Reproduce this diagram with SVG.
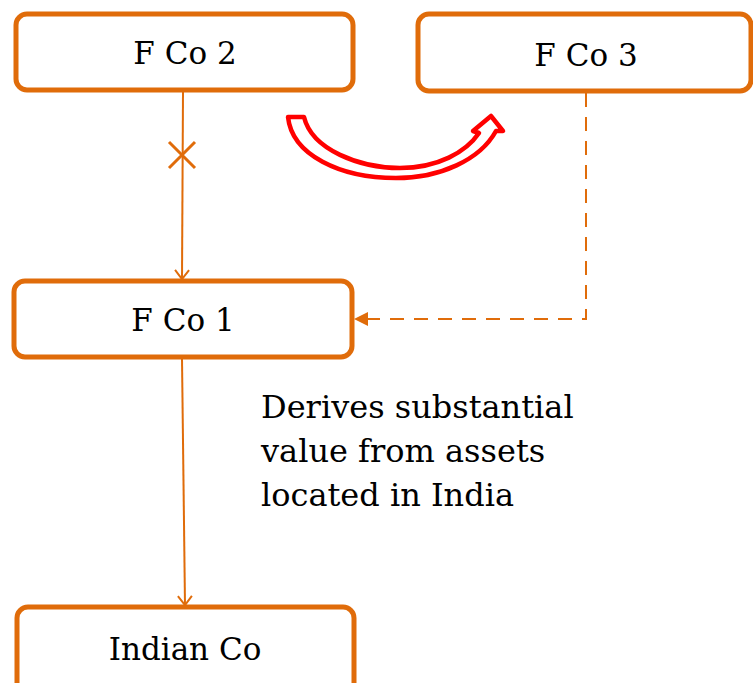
<svg xmlns="http://www.w3.org/2000/svg" width="753" height="683" viewBox="0 0 753 683">
<defs>
<style>
.box{fill:#fff;stroke:#E06C0A;stroke-width:5}
.lbl{font-family:"DejaVu Serif","Liberation Serif",serif;font-size:31px;fill:#000;text-anchor:middle}
.txt{font-family:"DejaVu Serif","Liberation Serif",serif;font-size:32px;fill:#000}
.ln{stroke:#E06C0A;stroke-width:2;fill:none}
</style>
<marker id="open" markerWidth="20" markerHeight="20" refX="10" refY="10" orient="auto" markerUnits="userSpaceOnUse">
<path d="M1,3 L10,10 L1,17" fill="none" stroke="#E06C0A" stroke-width="2"/>
</marker>
<marker id="fill" markerWidth="20" markerHeight="20" refX="12" refY="7" orient="auto" markerUnits="userSpaceOnUse">
<path d="M0,0 L14,7 L0,14 Z" fill="#E06C0A"/>
</marker>
</defs>
<g id="connectors">
<line class="ln" x1="183" y1="92" x2="182" y2="279" marker-end="url(#open)"/>
<path d="M169,142 L195,168 M195,142 L169,168" stroke="#E06C0A" stroke-width="3" fill="none"/>
<line class="ln" x1="182" y1="359" x2="185" y2="605" marker-end="url(#open)"/>
<path d="M586,93 L586,319 L356,319" class="ln" stroke-width="2.5" stroke-dasharray="14,10" marker-end="url(#fill)"/>
<path d="M288,117 L304,117 C312,150 360,168 400,168 C438,168 466,152 479,133 L473,131 L491,116 L503,131 L496,131 C480,160 440,178 396,178 C340,178 292,155 288,117 Z" fill="#fff" stroke="#FF0000" stroke-width="4.5" stroke-linejoin="round"/>
</g>
<g id="fco2">
<rect class="box" x="16" y="14" width="337" height="76" rx="11"/>
<text class="lbl" x="185" y="64">F Co 2</text>
</g>
<g id="fco3">
<rect class="box" x="418" y="14" width="333" height="77" rx="11"/>
<text class="lbl" x="586" y="66">F Co 3</text>
</g>
<g id="fco1">
<rect class="box" x="14" y="281" width="338" height="76" rx="11"/>
<text class="lbl" x="183" y="331">F Co 1</text>
</g>
<g id="indianco">
<rect class="box" x="17" y="607" width="337" height="90" rx="11"/>
<text class="lbl" x="185" y="660">Indian Co</text>
</g>
<g id="note">
<text class="txt" x="261" y="418">Derives substantial</text>
<text class="txt" x="261" y="462">value from assets</text>
<text class="txt" x="261" y="506">located in India</text>
</g>
</svg>
